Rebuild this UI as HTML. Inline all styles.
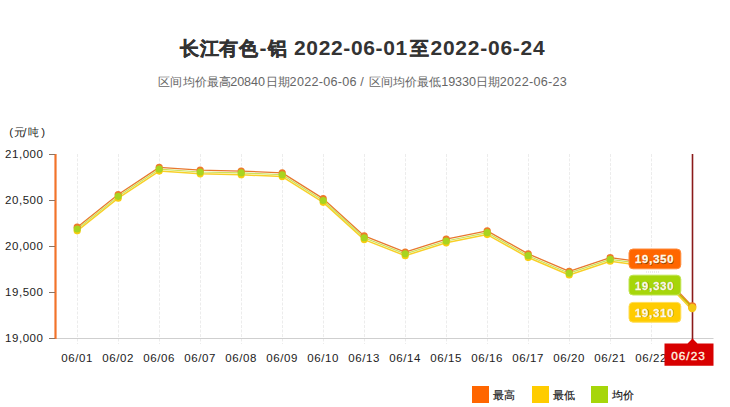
<!DOCTYPE html>
<html><head><meta charset="utf-8">
<style>
html,body{margin:0;padding:0;background:#fff;}
body{width:730px;height:407px;overflow:hidden;position:relative;font-family:"Liberation Sans",sans-serif;}
svg{position:absolute;left:0;top:0;}
</style></head><body>
<svg width="730" height="407" viewBox="0 0 730 407" font-family="Liberation Sans, sans-serif">
<text x="179.8" y="55" font-size="19" font-weight="bold" fill="#333" stroke="#333" stroke-width="0.45" letter-spacing="0.8">长江有色</text>
<text x="259.5" y="55" font-size="21" font-weight="bold" fill="#333" letter-spacing="0">-</text>
<text x="268" y="55" font-size="19" font-weight="bold" fill="#333" stroke="#333" stroke-width="0.45" letter-spacing="0">铝</text>
<text x="294" y="55" font-size="21" font-weight="bold" fill="#333" letter-spacing="0.65">2022-06-01</text>
<text x="410" y="55" font-size="19" font-weight="bold" fill="#333" stroke="#333" stroke-width="0.45" letter-spacing="0">至</text>
<text x="430.5" y="55" font-size="21" font-weight="bold" fill="#333" letter-spacing="0.75">2022-06-24</text>
<text x="158.3" y="86" font-size="11.8" fill="#666" letter-spacing="0.2">区间均价最高</text>
<text x="230.3" y="86" font-size="12.6" fill="#666" letter-spacing="-0.1">20840</text>
<text x="265.8" y="86" font-size="11.8" fill="#666" letter-spacing="0.2">日期</text>
<text x="289.6" y="86" font-size="12.6" fill="#666" letter-spacing="0.28">2022-06-06</text>
<text x="360.3" y="86" font-size="12.6" fill="#666" letter-spacing="-0.1">/</text>
<text x="368.5" y="86" font-size="11.8" fill="#666" letter-spacing="0.2">区间均价最低</text>
<text x="441.3" y="86" font-size="12.6" fill="#666" letter-spacing="-0.1">19330</text>
<text x="476" y="86" font-size="11.8" fill="#666" letter-spacing="0.2">日期</text>
<text x="499.8" y="86" font-size="12.6" fill="#666" letter-spacing="0.28">2022-06-23</text>
<text x="9.3" y="135.5" font-size="11.5" fill="#222">(</text>
<text x="13.6" y="135.5" font-size="10.6" fill="#222">元</text>
<text x="23.2" y="135.5" font-size="11.5" fill="#222">/</text>
<text x="27.6" y="135.5" font-size="10.6" fill="#222">吨</text>
<text x="41.3" y="135.5" font-size="11.5" fill="#222">)</text>
<line x1="77.5" y1="154" x2="77.5" y2="344" stroke="#ececec" stroke-width="1" stroke-dasharray="3,1.5"/>
<line x1="118.5" y1="154" x2="118.5" y2="344" stroke="#ececec" stroke-width="1" stroke-dasharray="3,1.5"/>
<line x1="159.5" y1="154" x2="159.5" y2="344" stroke="#ececec" stroke-width="1" stroke-dasharray="3,1.5"/>
<line x1="200.5" y1="154" x2="200.5" y2="344" stroke="#ececec" stroke-width="1" stroke-dasharray="3,1.5"/>
<line x1="241.5" y1="154" x2="241.5" y2="344" stroke="#ececec" stroke-width="1" stroke-dasharray="3,1.5"/>
<line x1="282.5" y1="154" x2="282.5" y2="344" stroke="#ececec" stroke-width="1" stroke-dasharray="3,1.5"/>
<line x1="323.5" y1="154" x2="323.5" y2="344" stroke="#ececec" stroke-width="1" stroke-dasharray="3,1.5"/>
<line x1="364.5" y1="154" x2="364.5" y2="344" stroke="#ececec" stroke-width="1" stroke-dasharray="3,1.5"/>
<line x1="405.5" y1="154" x2="405.5" y2="344" stroke="#ececec" stroke-width="1" stroke-dasharray="3,1.5"/>
<line x1="446.5" y1="154" x2="446.5" y2="344" stroke="#ececec" stroke-width="1" stroke-dasharray="3,1.5"/>
<line x1="487.5" y1="154" x2="487.5" y2="344" stroke="#ececec" stroke-width="1" stroke-dasharray="3,1.5"/>
<line x1="528.5" y1="154" x2="528.5" y2="344" stroke="#ececec" stroke-width="1" stroke-dasharray="3,1.5"/>
<line x1="569.5" y1="154" x2="569.5" y2="344" stroke="#ececec" stroke-width="1" stroke-dasharray="3,1.5"/>
<line x1="610.5" y1="154" x2="610.5" y2="344" stroke="#ececec" stroke-width="1" stroke-dasharray="3,1.5"/>
<line x1="651.5" y1="154" x2="651.5" y2="344" stroke="#ececec" stroke-width="1" stroke-dasharray="3,1.5"/>
<line x1="692.5" y1="154" x2="692.5" y2="344" stroke="#ececec" stroke-width="1" stroke-dasharray="3,1.5"/>
<line x1="50" y1="338.5" x2="713.5" y2="338.5" stroke="#cfcfcf" stroke-width="1"/>
<line x1="55.5" y1="154" x2="55.5" y2="339" stroke="#F2732A" stroke-width="2.2"/>
<line x1="49" y1="154.5" x2="55" y2="154.5" stroke="#8a7565" stroke-width="1"/>
<text x="43.5" y="158.1" text-anchor="end" font-size="11.5" fill="#222" letter-spacing="0.55">21,000</text>
<line x1="49" y1="200.5" x2="55" y2="200.5" stroke="#8a7565" stroke-width="1"/>
<text x="43.5" y="204.1" text-anchor="end" font-size="11.5" fill="#222" letter-spacing="0.55">20,500</text>
<line x1="49" y1="246.5" x2="55" y2="246.5" stroke="#8a7565" stroke-width="1"/>
<text x="43.5" y="250.1" text-anchor="end" font-size="11.5" fill="#222" letter-spacing="0.55">20,000</text>
<line x1="49" y1="292.5" x2="55" y2="292.5" stroke="#8a7565" stroke-width="1"/>
<text x="43.5" y="296.1" text-anchor="end" font-size="11.5" fill="#222" letter-spacing="0.55">19,500</text>
<line x1="49" y1="338.5" x2="55" y2="338.5" stroke="#8a7565" stroke-width="1"/>
<text x="43.5" y="342.1" text-anchor="end" font-size="11.5" fill="#222" letter-spacing="0.55">19,000</text>
<polyline points="77.20,227.18 118.20,194.52 159.20,167.38 200.20,170.14 241.20,171.06 282.20,172.90 323.20,198.66 364.20,235.92 405.20,252.02 446.20,239.14 487.20,230.86 528.20,253.86 569.20,271.34 610.20,257.54 651.20,263.06 692.20,306.30" fill="none" stroke="#E8782E" stroke-width="1.3" stroke-linejoin="round"/>
<polyline points="77.20,230.86 118.20,198.20 159.20,171.06 200.20,173.82 241.20,174.74 282.20,176.58 323.20,202.34 364.20,239.60 405.20,255.70 446.20,242.82 487.20,234.54 528.20,257.54 569.20,275.02 610.20,261.22 651.20,266.74 692.20,309.98" fill="none" stroke="#F8D028" stroke-width="1.5" stroke-linejoin="round"/>
<polyline points="77.20,229.02 118.20,196.36 159.20,169.22 200.20,171.98 241.20,172.90 282.20,174.74 323.20,200.50 364.20,237.76 405.20,253.86 446.20,240.98 487.20,232.70 528.20,255.70 569.20,273.18 610.20,259.38 651.20,264.90 692.20,308.14" fill="none" stroke="#CDE25A" stroke-width="1.2" stroke-linejoin="round"/>
<circle cx="77.20" cy="227.18" r="3.6" fill="#EE7A2A"/>
<circle cx="118.20" cy="194.52" r="3.6" fill="#EE7A2A"/>
<circle cx="159.20" cy="167.38" r="3.6" fill="#EE7A2A"/>
<circle cx="200.20" cy="170.14" r="3.6" fill="#EE7A2A"/>
<circle cx="241.20" cy="171.06" r="3.6" fill="#EE7A2A"/>
<circle cx="282.20" cy="172.90" r="3.6" fill="#EE7A2A"/>
<circle cx="323.20" cy="198.66" r="3.6" fill="#EE7A2A"/>
<circle cx="364.20" cy="235.92" r="3.6" fill="#EE7A2A"/>
<circle cx="405.20" cy="252.02" r="3.6" fill="#EE7A2A"/>
<circle cx="446.20" cy="239.14" r="3.6" fill="#EE7A2A"/>
<circle cx="487.20" cy="230.86" r="3.6" fill="#EE7A2A"/>
<circle cx="528.20" cy="253.86" r="3.6" fill="#EE7A2A"/>
<circle cx="569.20" cy="271.34" r="3.6" fill="#EE7A2A"/>
<circle cx="610.20" cy="257.54" r="3.6" fill="#EE7A2A"/>
<circle cx="651.20" cy="263.06" r="3.6" fill="#EE7A2A"/>
<circle cx="77.20" cy="230.86" r="3.6" fill="#F8CC10"/>
<circle cx="118.20" cy="198.20" r="3.6" fill="#F8CC10"/>
<circle cx="159.20" cy="171.06" r="3.6" fill="#F8CC10"/>
<circle cx="200.20" cy="173.82" r="3.6" fill="#F8CC10"/>
<circle cx="241.20" cy="174.74" r="3.6" fill="#F8CC10"/>
<circle cx="282.20" cy="176.58" r="3.6" fill="#F8CC10"/>
<circle cx="323.20" cy="202.34" r="3.6" fill="#F8CC10"/>
<circle cx="364.20" cy="239.60" r="3.6" fill="#F8CC10"/>
<circle cx="405.20" cy="255.70" r="3.6" fill="#F8CC10"/>
<circle cx="446.20" cy="242.82" r="3.6" fill="#F8CC10"/>
<circle cx="487.20" cy="234.54" r="3.6" fill="#F8CC10"/>
<circle cx="528.20" cy="257.54" r="3.6" fill="#F8CC10"/>
<circle cx="569.20" cy="275.02" r="3.6" fill="#F8CC10"/>
<circle cx="610.20" cy="261.22" r="3.6" fill="#F8CC10"/>
<circle cx="651.20" cy="266.74" r="3.6" fill="#F8CC10"/>
<circle cx="77.20" cy="229.02" r="3.6" fill="#A8D420"/>
<circle cx="118.20" cy="196.36" r="3.6" fill="#A8D420"/>
<circle cx="159.20" cy="169.22" r="3.6" fill="#A8D420"/>
<circle cx="200.20" cy="171.98" r="3.6" fill="#A8D420"/>
<circle cx="241.20" cy="172.90" r="3.6" fill="#A8D420"/>
<circle cx="282.20" cy="174.74" r="3.6" fill="#A8D420"/>
<circle cx="323.20" cy="200.50" r="3.6" fill="#A8D420"/>
<circle cx="364.20" cy="237.76" r="3.6" fill="#A8D420"/>
<circle cx="405.20" cy="253.86" r="3.6" fill="#A8D420"/>
<circle cx="446.20" cy="240.98" r="3.6" fill="#A8D420"/>
<circle cx="487.20" cy="232.70" r="3.6" fill="#A8D420"/>
<circle cx="528.20" cy="255.70" r="3.6" fill="#A8D420"/>
<circle cx="569.20" cy="273.18" r="3.6" fill="#A8D420"/>
<circle cx="610.20" cy="259.38" r="3.6" fill="#A8D420"/>
<circle cx="651.20" cy="264.90" r="3.6" fill="#A8D420"/>
<text x="77.2" y="362" text-anchor="middle" font-size="11.5" fill="#222" letter-spacing="0.6">06/01</text>
<text x="118.2" y="362" text-anchor="middle" font-size="11.5" fill="#222" letter-spacing="0.6">06/02</text>
<text x="159.2" y="362" text-anchor="middle" font-size="11.5" fill="#222" letter-spacing="0.6">06/06</text>
<text x="200.2" y="362" text-anchor="middle" font-size="11.5" fill="#222" letter-spacing="0.6">06/07</text>
<text x="241.2" y="362" text-anchor="middle" font-size="11.5" fill="#222" letter-spacing="0.6">06/08</text>
<text x="282.2" y="362" text-anchor="middle" font-size="11.5" fill="#222" letter-spacing="0.6">06/09</text>
<text x="323.2" y="362" text-anchor="middle" font-size="11.5" fill="#222" letter-spacing="0.6">06/10</text>
<text x="364.2" y="362" text-anchor="middle" font-size="11.5" fill="#222" letter-spacing="0.6">06/13</text>
<text x="405.2" y="362" text-anchor="middle" font-size="11.5" fill="#222" letter-spacing="0.6">06/14</text>
<text x="446.2" y="362" text-anchor="middle" font-size="11.5" fill="#222" letter-spacing="0.6">06/15</text>
<text x="487.2" y="362" text-anchor="middle" font-size="11.5" fill="#222" letter-spacing="0.6">06/16</text>
<text x="528.2" y="362" text-anchor="middle" font-size="11.5" fill="#222" letter-spacing="0.6">06/17</text>
<text x="569.2" y="362" text-anchor="middle" font-size="11.5" fill="#222" letter-spacing="0.6">06/20</text>
<text x="610.2" y="362" text-anchor="middle" font-size="11.5" fill="#222" letter-spacing="0.6">06/21</text>
<text x="651.2" y="362" text-anchor="middle" font-size="11.5" fill="#222" letter-spacing="0.6">06/22</text>
<line x1="692.5" y1="154" x2="692.5" y2="344" stroke="#8B1A1A" stroke-width="1.6"/>
<circle cx="692.2" cy="306.4" r="4.1" fill="#EE7A2A"/>
<circle cx="692.2" cy="308.0" r="4.2" fill="#F4C814"/>
<line x1="677" y1="292" x2="690" y2="305" stroke="#C8B400" stroke-width="1.5"/>
<rect x="627" y="266" width="55" height="10" fill="#fff"/>
<line x1="646" y1="272" x2="660" y2="272" stroke="#cfcfcf" stroke-width="0.8" stroke-dasharray="1,1"/>
<rect x="629" y="249.0" width="51.8" height="19.8" rx="4" fill="#FF6600" stroke="#FF8A3A" stroke-width="1"/>
<text x="655.3" y="264.0" text-anchor="middle" font-size="11.2" font-weight="bold" fill="#000" fill-opacity="0.4" stroke="#000" stroke-opacity="0.3" stroke-width="0.4" letter-spacing="0.85">19,350</text>
<text x="654.7" y="263.4" text-anchor="middle" font-size="11.2" font-weight="bold" fill="#FFFBEA" stroke="#FFFBEA" stroke-width="0.3" letter-spacing="0.85">19,350</text>
<rect x="629" y="275.2" width="51.8" height="19.8" rx="4" fill="#A6D60A" stroke="#C0E450" stroke-width="1"/>
<text x="655.3" y="290.2" text-anchor="middle" font-size="11.2" font-weight="bold" fill="#000" fill-opacity="0.4" stroke="#000" stroke-opacity="0.3" stroke-width="0.4" letter-spacing="0.85">19,330</text>
<text x="654.7" y="289.59999999999997" text-anchor="middle" font-size="11.2" font-weight="bold" fill="#FFFBEA" stroke="#FFFBEA" stroke-width="0.3" letter-spacing="0.85">19,330</text>
<rect x="629" y="302.4" width="51.8" height="19.8" rx="4" fill="#FFCC00" stroke="#FFDD55" stroke-width="1"/>
<text x="655.3" y="317.4" text-anchor="middle" font-size="11.2" font-weight="bold" fill="#000" fill-opacity="0.4" stroke="#000" stroke-opacity="0.3" stroke-width="0.4" letter-spacing="0.85">19,310</text>
<text x="654.7" y="316.79999999999995" text-anchor="middle" font-size="11.2" font-weight="bold" fill="#FFFBEA" stroke="#FFFBEA" stroke-width="0.3" letter-spacing="0.85">19,310</text>
<path d="M664.5,343.6 L687.5,343.6 L692.5,338.5 L697.5,343.6 L713.5,343.6 L713.5,365.8 L664.5,365.8 Z" fill="#D80000"/><text x="688.5" y="360.3" text-anchor="middle" font-size="11.8" fill="#FFF6E0" stroke="#FFF6E0" stroke-width="0.35" letter-spacing="1.0">06/23</text>
<rect x="472" y="386" width="17" height="17" fill="#FF6600"/>
<text x="493" y="399.3" font-size="11.3" fill="#111" stroke="#111" stroke-width="0.15">最高</text>
<rect x="532" y="386" width="17" height="17" fill="#FFCC00"/>
<text x="553" y="399.3" font-size="11.3" fill="#111" stroke="#111" stroke-width="0.15">最低</text>
<rect x="591" y="386" width="17" height="17" fill="#A6D60A"/>
<text x="612" y="399.3" font-size="11.3" fill="#111" stroke="#111" stroke-width="0.15">均价</text>
</svg>
</body></html>
